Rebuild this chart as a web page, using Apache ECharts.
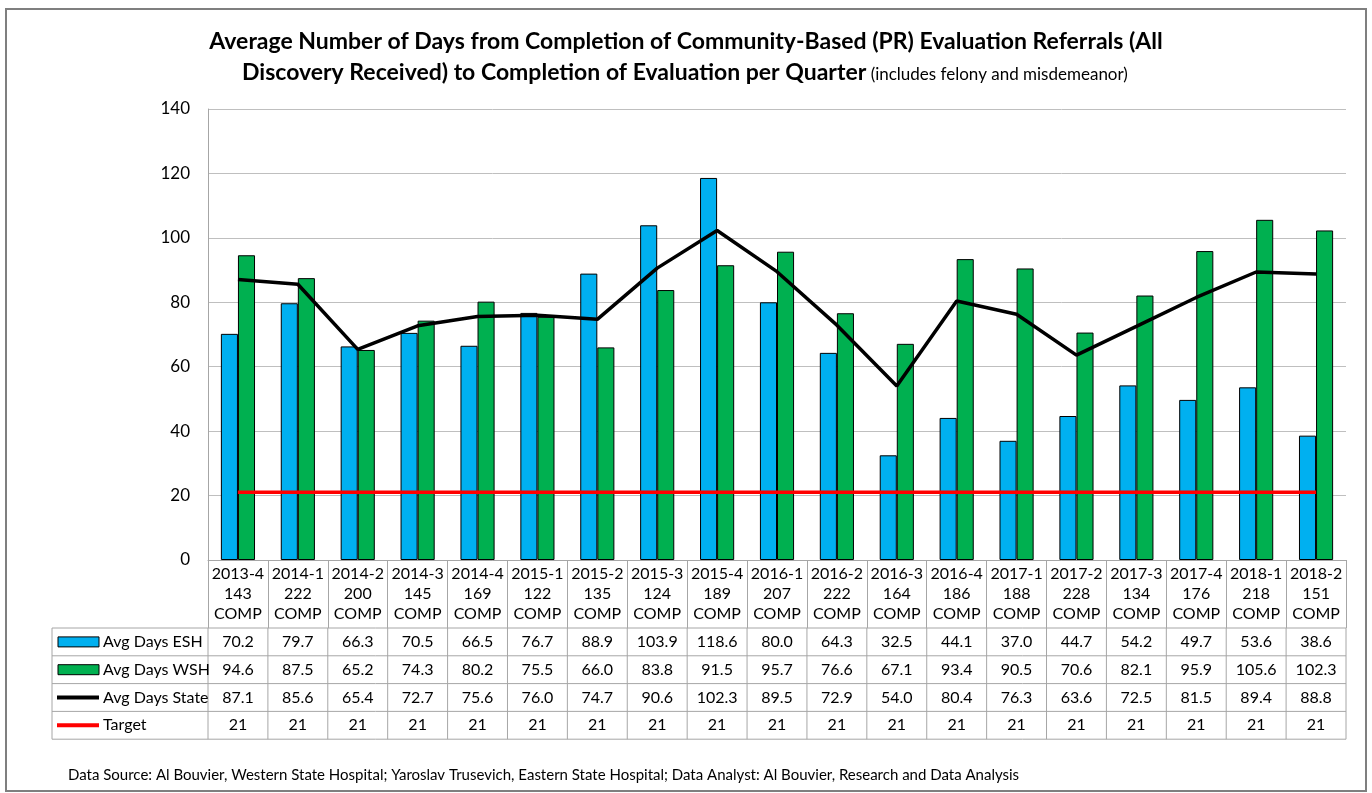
<!DOCTYPE html>
<html>
<head>
<meta charset="utf-8">
<script src="https://cdn.jsdelivr.net/npm/echarts@6/dist/echarts.min.js"></script>
<style>
  html, body { margin: 0; padding: 0; background: #fff; }
  #chart { width: 1372px; height: 793px; }
</style>
</head>
<body>
<div id="chart"></div>
<script>
// quarter labels + completed evaluations per quarter
const quarters = ['2013-4','2014-1','2014-2','2014-3','2014-4','2015-1','2015-2','2015-3','2015-4','2016-1',
                  '2016-2','2016-3','2016-4','2017-1','2017-2','2017-3','2017-4','2018-1','2018-2'];
const compCounts = [143,222,200,145,169,122,135,124,189,207,222,164,186,188,228,134,176,218,151];

const avgEsh   = [70.2,79.7,66.3,70.5,66.5,76.7,88.9,103.9,118.6,80.0,64.3,32.5,44.1,37.0,44.7,54.2,49.7,53.6,38.6];
const avgWsh   = [94.6,87.5,65.2,74.3,80.2,75.5,66.0,83.8,91.5,95.7,76.6,67.1,93.4,90.5,70.6,82.1,95.9,105.6,102.3];
const avgState = [87.1,85.6,65.4,72.7,75.6,76.0,74.7,90.6,102.3,89.5,72.9,54.0,80.4,76.3,63.6,72.5,81.5,89.4,88.8];
const target   = [21,21,21,21,21,21,21,21,21,21,21,21,21,21,21,21,21,21,21];

const yTicks = [0, 20, 40, 60, 80, 100, 120, 140];

const FONT = 'Lato, "Liberation Sans", sans-serif';
const BLUE = '#00B0F0', GREEN = '#00B050', RED = '#FF0000';

let chart = echarts.init(document.getElementById('chart'));

let option = {
  animation: false,
  textStyle: { fontFamily: FONT },
  title: [
    {
      text: 'Average Number of Days from Completion of Community-Based (PR) Evaluation Referrals (All',
      left: 'center', top: 25,
      textStyle: { fontSize: 23, fontWeight: 'bold', color: '#000', fontFamily: FONT }
    },
    {
      text: '{b|Discovery Received) to Completion of Evaluation per Quarter} {s|(includes felony and misdemeanor)}',
      left: 690 - 453, top: 56,
      textStyle: {
        rich: {
          b: { fontSize: 23, fontWeight: 'bold', color: '#000', fontFamily: FONT },
          s: { fontSize: 17, fontWeight: 'normal', color: '#000', fontFamily: FONT, padding: [4, 0, 0, 0] }
        }
      }
    }
  ],
  legend: { show: false },
  grid: { left: 208, right: 26, top: 109, bottom: 233, containLabel: false },
  xAxis: {
    type: 'category',
    data: quarters,
    axisLine: { lineStyle: { color: '#A6A6A6', width: 1 } },
    axisTick: { show: true, inside: false, length: 68, lineStyle: { color: '#A6A6A6' } },
    axisLabel: {
      interval: 0, margin: 4, fontSize: 16, lineHeight: 20, color: '#000',
      formatter: (v, i) => v + '\n' + compCounts[i] + '\nCOMP'
    }
  },
  yAxis: {
    type: 'value',
    min: yTicks[0], max: yTicks[yTicks.length - 1], interval: 20,
    axisLine: { show: true, lineStyle: { color: '#A6A6A6' } },
    axisTick: { show: false },
    axisLabel: { fontSize: 17, color: '#000', margin: 18 },
    splitLine: { lineStyle: { color: '#BFBFBF', width: 1 } }
  },
  series: [
    {
      name: 'Avg Days ESH', type: 'bar', data: avgEsh,
      barGap: '0%', barCategoryGap: '43%',
      itemStyle: { color: BLUE, borderColor: '#000', borderWidth: 1 }
    },
    {
      name: 'Avg Days WSH', type: 'bar', data: avgWsh,
      itemStyle: { color: GREEN, borderColor: '#000', borderWidth: 1 }
    },
    {
      name: 'Avg Days State', type: 'line', data: avgState, symbol: 'none', z: 5,
      lineStyle: { color: '#000', width: 3.5 }
    },
    {
      name: 'Target', type: 'line', data: target, symbol: 'none', z: 4,
      lineStyle: { color: RED, width: 3.5 }
    }
  ]
};

chart.setOption(option);

// data table under the axis, positioned from the category axis
let buildTable = () => {
  let c0 = chart.convertToPixel({ xAxisIndex: 0 }, 0);
  let c1 = chart.convertToPixel({ xAxisIndex: 0 }, 1);
  let band = c1 - c0;
  let leftEdge = c0 - band / 2;
  let rightEdge = leftEdge + band * quarters.length;
  let yBase = chart.convertToPixel({ yAxisIndex: 0 }, 0);
  let tableTop = yBase + 68;
  let rowH = 27.8;
  let tableLeft = 52;
  let lineColor = '#A6A6A6';

  const rows = [
    { name: 'Avg Days ESH', vals: avgEsh.map(v => v.toFixed(1)), icon: 'rect', color: BLUE },
    { name: 'Avg Days WSH', vals: avgWsh.map(v => v.toFixed(1)), icon: 'rect', color: GREEN },
    { name: 'Avg Days State', vals: avgState.map(v => v.toFixed(1)), icon: 'line', color: '#000' },
    { name: 'Target', vals: target.map(v => String(v)), icon: 'line', color: RED }
  ];

  let els = [];
  // outer frame
  els.push({ type: 'rect', shape: { x: 6, y: 9, width: 1360, height: 782 }, silent: true,
    style: { fill: 'none', stroke: '#7F7F7F', lineWidth: 2 } });

  for (let k = 0; k <= rows.length; k++) {
    let y = tableTop + k * rowH;
    els.push({ type: 'line', shape: { x1: tableLeft, y1: y, x2: rightEdge, y2: y },
      style: { stroke: lineColor, lineWidth: 1 } });
  }
  let tableBottom = tableTop + rows.length * rowH;
  els.push({ type: 'line', shape: { x1: tableLeft, y1: tableTop, x2: tableLeft, y2: tableBottom },
    style: { stroke: lineColor, lineWidth: 1 } });
  for (let i = 0; i <= quarters.length; i++) {
    let x = leftEdge + i * band;
    els.push({ type: 'line', shape: { x1: x, y1: tableTop, x2: x, y2: tableBottom },
      style: { stroke: lineColor, lineWidth: 1 } });
  }

  rows.forEach((row, k) => {
    let cy = tableTop + k * rowH + rowH / 2;
    if (row.icon === 'rect') {
      els.push({ type: 'rect', shape: { x: 58, y: cy - 5, width: 41, height: 10 },
        style: { fill: row.color, stroke: '#000', lineWidth: 1 } });
    } else {
      els.push({ type: 'line', shape: { x1: 57, y1: cy, x2: 99, y2: cy },
        style: { stroke: row.color, lineWidth: 4 } });
    }
    els.push({ type: 'text', x: 103, y: cy,
      style: { text: row.name, fontSize: 16, fontFamily: FONT, fill: '#000', verticalAlign: 'middle' } });
    row.vals.forEach((v, i) => {
      els.push({ type: 'text', x: c0 + i * band, y: cy,
        style: { text: v, fontSize: 16, fontFamily: FONT, fill: '#000', align: 'center', verticalAlign: 'middle' } });
    });
  });

  els.push({ type: 'text', x: 68, y: 775,
    style: { text: 'Data Source: Al Bouvier, Western State Hospital; Yaroslav Trusevich, Eastern State Hospital; Data Analyst: Al Bouvier, Research and Data Analysis',
      fontSize: 15, fontFamily: FONT, fill: '#000', verticalAlign: 'middle' } });

  chart.setOption({ graphic: { elements: els } });
};

buildTable();
</script>
</body>
</html>
